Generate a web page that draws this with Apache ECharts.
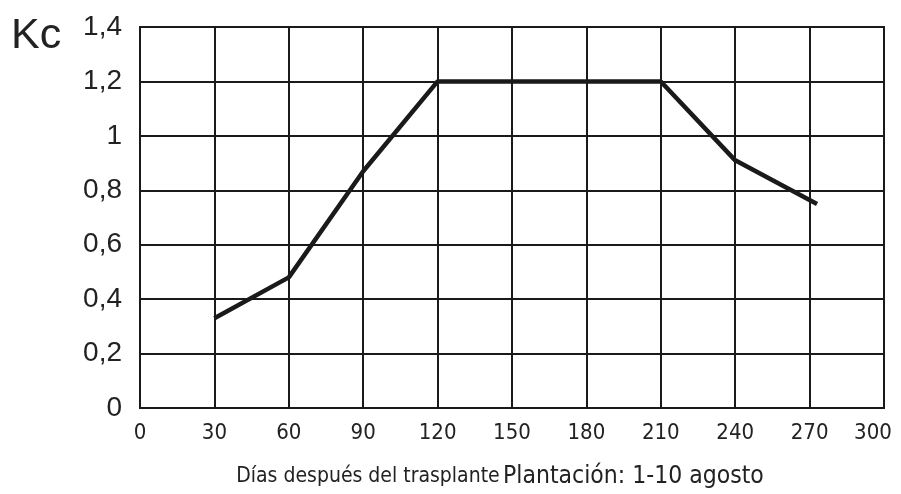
<!DOCTYPE html>
<html><head><meta charset="utf-8">
<script src="https://cdn.jsdelivr.net/npm/echarts@6/dist/echarts.min.js"></script>
<style>html,body{margin:0;padding:0;background:#fff}#c{width:901px;height:494px}</style>
</head><body><div id="c"></div>
<script>
const days = [30, 60, 90, 120, 210, 240, 273];
const kc = [0.33, 0.48, 0.87, 1.2, 1.2, 0.91, 0.75];
const xTicks = [0, 30, 60, 90, 120, 150, 180, 210, 240, 270, 300];
const yTicks = ['0', '0,2', '0,4', '0,6', '0,8', '1', '1,2', '1,4'];
const yTitle = 'Kc';
const xTitleA = 'Días después del trasplante';
const xTitleB = 'Plantación: 1-10 agosto';

const cond = '"DejaVu Sans Condensed", sans-serif';
const chart = echarts.init(document.getElementById('c'), null, {renderer: 'canvas'});
const lineStyle = {color: '#1a1a1a', width: 2};
chart.setOption({
  animation: false,
  backgroundColor: '#fff',
  title: {text: yTitle, left: 6, top: 10, textStyle: {fontFamily: '"Liberation Sans", Arial, sans-serif', fontSize: 43, fontWeight: 'normal', color: '#222'}},
  grid: {left: 140, right: 17, top: 27, bottom: 86, show: true, borderColor: '#1a1a1a', borderWidth: 2,
    containLabel: false, outerBoundsMode: 'none'},
  xAxis: {
    type: 'value', min: 0, max: 300, interval: 30,
    axisLine: {show: true, lineStyle: lineStyle},
    axisTick: {show: false},
    splitLine: {show: true, lineStyle: lineStyle},
    axisLabel: {margin: 14, fontSize: 22, color: '#222', fontFamily: cond,
      formatter: (v, i) => {
        const t = String(xTicks[Math.round(v / 30)]);
        return v >= 300 ? '{m|' + t + '}' : t;
      },
      rich: {m: {fontSize: 22, color: '#222', fontFamily: cond, padding: [0, 22, 0, 0]}}
    },
    name: '{a|' + xTitleA + '} {b|' + xTitleB + '}',
    nameLocation: 'middle', nameGap: 56,
    nameTextStyle: {padding: [0, 24, 0, 0], rich: {
      a: {fontSize: 21, color: '#222', fontFamily: cond},
      b: {fontSize: 24.5, color: '#222', fontFamily: cond}
    }}
  },
  yAxis: {
    type: 'value', min: 0, max: 1.4, interval: 0.2,
    axisLine: {show: true, lineStyle: lineStyle},
    axisTick: {show: false},
    splitLine: {show: true, lineStyle: lineStyle},
    axisLabel: {margin: 18, fontSize: 28, color: '#222', fontFamily: '"Liberation Sans", Arial, sans-serif',
      formatter: v => yTicks[Math.round(v / 0.2)]}
  },
  series: [{
    type: 'line',
    data: days.map((d, i) => [d, kc[i]]),
    symbol: 'none',
    lineStyle: {color: '#1a1a1a', width: 4.5},
    z: 5
  }]
});
</script></body></html>
